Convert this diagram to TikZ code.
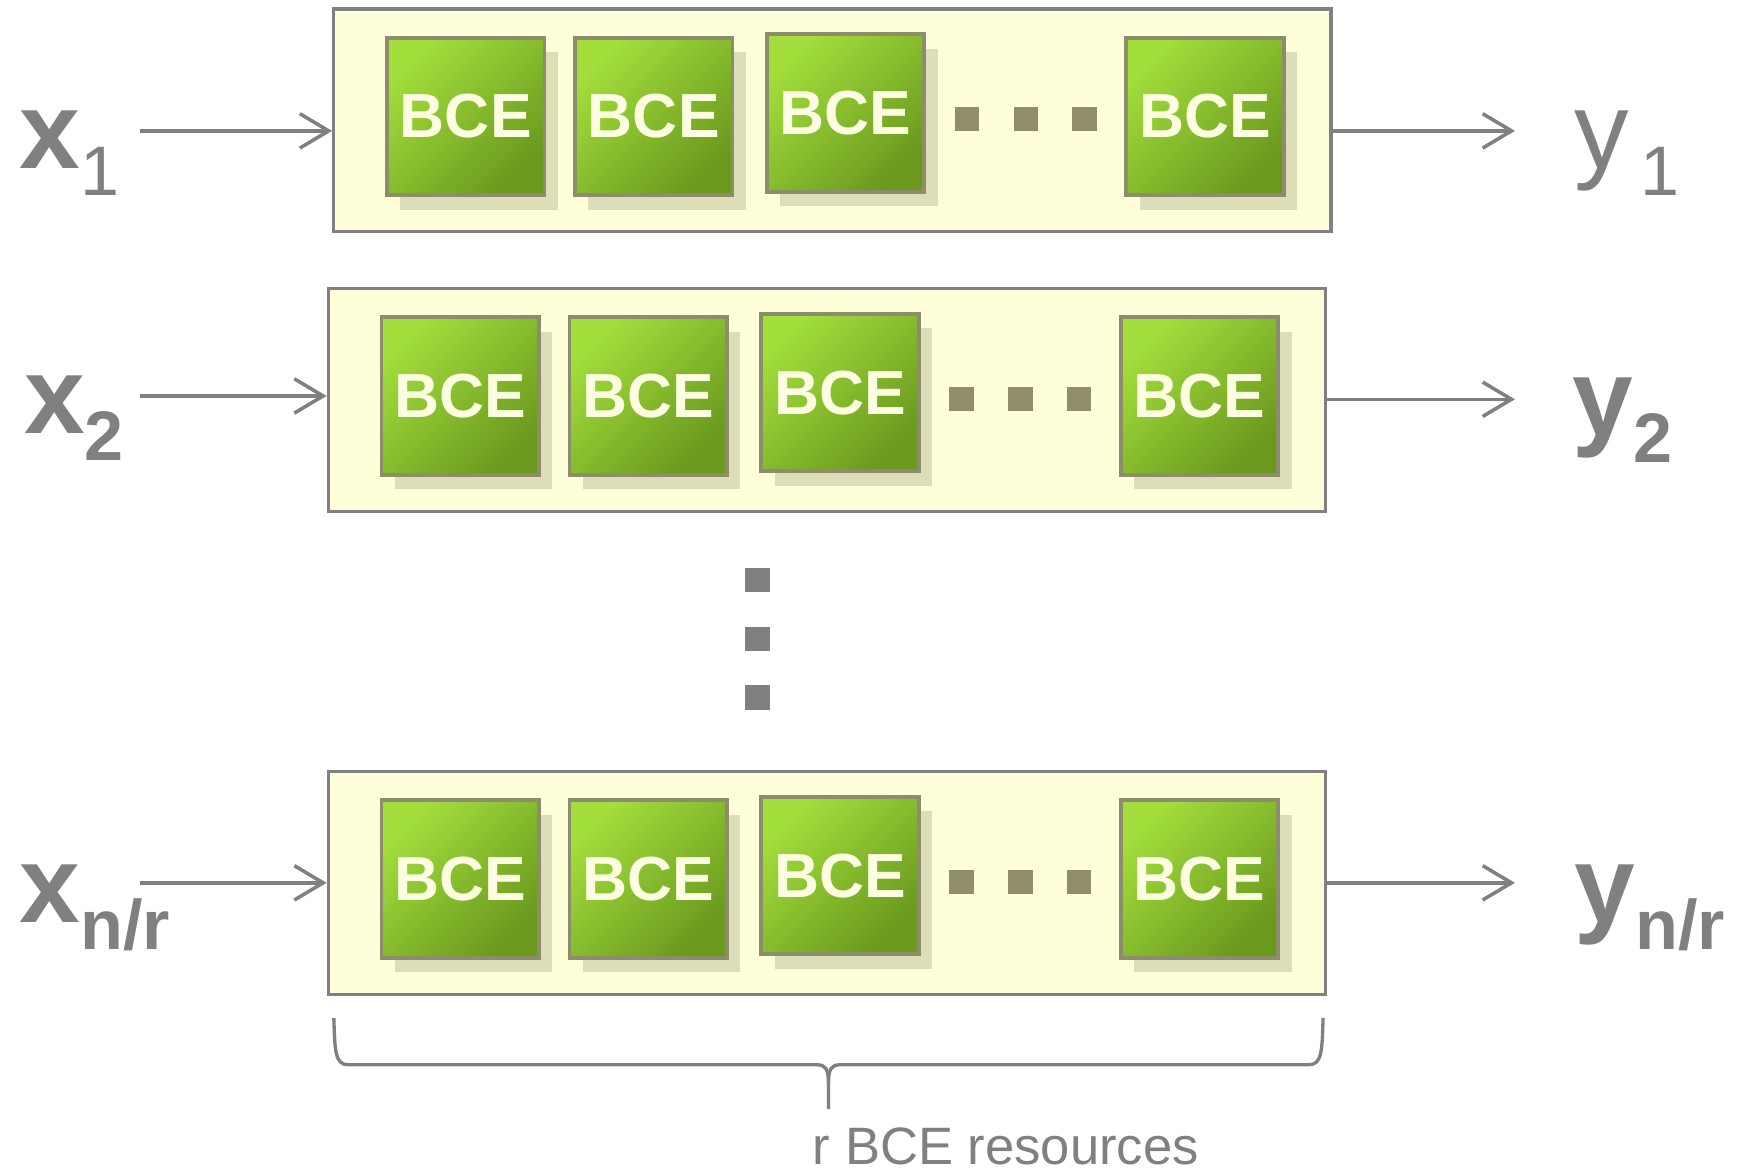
\documentclass[tikz,border=0pt]{standalone}
\usepackage{fontspec}
\setmainfont{Liberation Sans}
\usepackage{tikz}
\usepackage{xcolor}
\usetikzlibrary{
  arrows.meta, shadows, calc,
}
\definecolor{cMuted}    {HTML}{808080}
\definecolor{cPanel}    {HTML}{FEFED8}
\definecolor{cBceLight} {HTML}{A2DE3C}
\definecolor{cBceDark}  {HTML}{6A991E}
\definecolor{cBceEdge}  {HTML}{8E8D6B}
\definecolor{cBceText}  {HTML}{FDFDE2}
\definecolor{cShadow}   {HTML}{DDDDB7}
\definecolor{cDots}     {HTML}{8F8E69}
\newcommand{\subdrop}[1]{\raisebox{-2.4mm}{\fontsize{18pt}{18pt}\selectfont #1}}

\begin{document}
\begin{tikzpicture}[x=0.1mm, y=-0.1mm,
    panel/.style={draw=cMuted, fill=cPanel, line width=0.3mm,
                  minimum width=89.9mm, minimum height=20.1mm, inner sep=0pt},
    bce/.style={draw=cBceEdge, line width=0.35mm,
                top color=cBceLight, bottom color=cBceDark, shading angle=45,
                minimum size=14.2mm, inner sep=0pt, text=cBceText,
                font=\fontsize{16pt}{16pt}\bfseries,
                drop shadow={shadow xshift=1.2mm, shadow yshift=-1.3mm,
                             fill=cShadow, opacity=1}},
    gapdot/.style={fill=#1, minimum size=2.2mm, inner sep=0pt},
    flow/.style={-{Straight Barb[length=2.6mm,width=3.1mm]},
                 line width=0.32mm, draw=cMuted},
    io/.style={anchor=base west, inner sep=0pt, text=cMuted},
  ]
  \useasboundingbox (0,0) rectangle (1568,1057);

  % one row: panel, four BCE blocks, gap dots, in/out arrows
  \foreach \r/\cx/\cy/\yin/\yout in {1/750.5/108.5/118/118,
                                     2/745.5/360.5/357/360,
                                     3/745.5/796/796/796}{
    \node[panel] (row\r) at (\cx,\cy) {};
    \foreach \i/\dx/\dy in {1/-330.5/-3.5, 2/-161/-3.5, 3/12/-6.5, 4/336/-3.5}
      \node[bce] (b\r\i) at (\cx+\dx, \cy+\dy) {BCE};
    \foreach \k/\dx in {1/121.5, 2/174.5, 3/227.5}
      \node[gapdot=cDots] (g\r\k) at (\cx+\dx, \cy-1) {};
    \coordinate (in\r) at (126,\yin);
    \coordinate (out\r) at (1366,\yout);
    \draw[flow] (in\r) -- (row\r.west |- in\r);
    \draw[flow] (row\r.east |- out\r) -- (out\r);
  }

  % vertical dots between row 2 and row 3
  \foreach \k/\vy in {1/523, 2/576, 3/629}
    \node[gapdot=cMuted] (v\k) at (683,\vy) {};

  % inputs and outputs
  \node[io, font=\fontsize{28pt}{28pt}\bfseries] (x1) at (17,152) {x\subdrop{\mdseries 1}};
  \node[io, font=\fontsize{28pt}{28pt}\bfseries] (x2) at (21,391) {x\subdrop{2}};
  \node[io, font=\fontsize{28pt}{28pt}\bfseries] (xn) at (17,832) {x\subdrop{n/r}};
  \node[io, font=\fontsize{28pt}{28pt}\mdseries] (y1) at (1419,152) {y\subdrop{\hspace{1mm}1}};
  \node[io, font=\fontsize{28pt}{28pt}\bfseries] (y2) at (1417,393) {y\subdrop{2}};
  \node[io, font=\fontsize{28pt}{28pt}\bfseries] (yn) at (1419,832) {y\subdrop{n/r}};

  % brace under the last row
  \draw[line width=0.3mm, draw=cMuted]
    (301,918) .. controls (302,948) and (302,960) .. (314,960) -- (736,960)
    .. controls (745,960) and (747,964) .. (747,978) -- (747,1000);
  \draw[line width=0.3mm, draw=cMuted]
    (1193,918) .. controls (1192,948) and (1192,960) .. (1180,960) -- (758,960)
    .. controls (749,960) and (747,964) .. (747,978);
  \node[anchor=base, inner sep=0pt, text=cMuted,
        font=\fontsize{13.5pt}{13.5pt}\selectfont] (note) at (907,1050) {r BCE resources};
\end{tikzpicture}
\end{document}
